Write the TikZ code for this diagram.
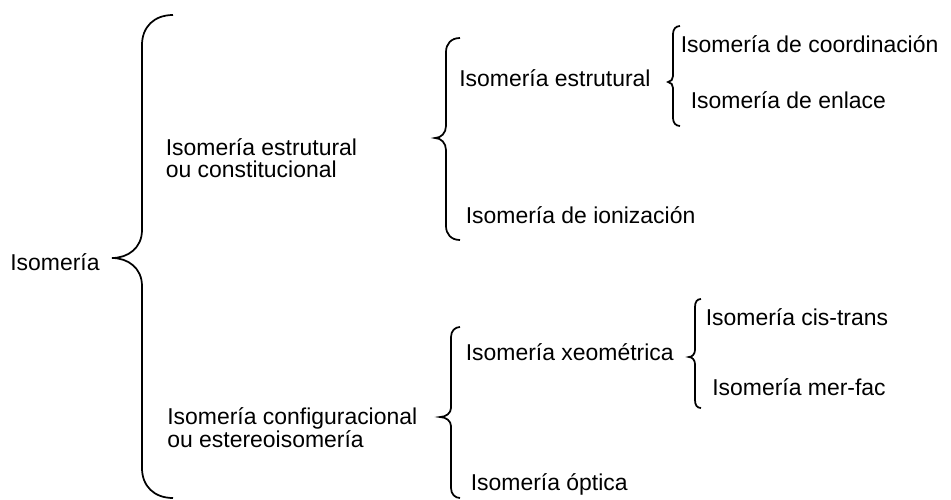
\documentclass[tikz,border=0pt]{standalone}
\usepackage{fontspec}
\setmainfont{Liberation Sans}

\tikzset{every picture/.style={line width=1.3pt}}
\tikzset{lbl/.style={anchor=base west, inner sep=0pt, align=left, font=\fontsize{17.2}{16}\selectfont}}

\begin{document}
\begin{tikzpicture}[x=0.75pt,y=0.75pt,yscale=-1,xscale=1]
        \useasboundingbox (0,0) rectangle (951,500);
        
        %Shape: Brace (main)
        \draw   (173,15) .. controls (154,15) and (142,27) .. (142,45) -- (142,230) .. controls (142,248) and (128,258) .. (112,258) .. controls (128,258) and (142,268) .. (142,286) -- (142,468) .. controls (142,486) and (154,498) .. (173,498) ;
        %Shape: Brace (estrutural)
        \draw   (460,38) .. controls (451,38) and (446,44) .. (446,52) -- (446,126) .. controls (446,133) and (441,138) .. (435,138) .. controls (441,138) and (446,143) .. (446,150) -- (446,226) .. controls (446,234) and (451,240) .. (460,240) ;
        %Shape: Brace (configuracional)
        \draw   (460,327) .. controls (455,327) and (451,331) .. (451,337) -- (451,408) .. controls (451,413) and (446,417) .. (440,417) .. controls (446,417) and (451,421) .. (451,426) -- (451,488) .. controls (451,494) and (455,498) .. (460,498) ;
        %Shape: Brace (coordinacion / enlace)
        \draw   (680,26) .. controls (676,26) and (673,29) .. (673,34) -- (673,76) .. controls (673,79) and (671,82) .. (668,82) .. controls (671,82) and (673,85) .. (673,88) -- (673,118) .. controls (673,123) and (676,126) .. (680,126) ;
        %Shape: Brace (cis-trans / mer-fac)
        \draw   (701,299) .. controls (697,299) and (695,302) .. (695,307) -- (695,350) .. controls (695,354) and (692,357) .. (689,357) .. controls (692,357) and (695,360) .. (695,364) -- (695,400) .. controls (695,405) and (697,408) .. (701,408) ;
        
        % Text Node
        \node [lbl] (isom) at (9.5,270) {Isomería};
        % Text Node (base = last line)
        \node [lbl] (const) at (165,177) {Isomería estrutural\\ou constitucional};
        % Text Node (base = last line)
        \node [lbl] (config) at (166.5,447.5) {Isomería configuracional\\ou estereoisomería};
        % Text Node
        \node [lbl] (estr) at (458.5,86) {Isomería estrutural};
        % Text Node
        \node [lbl] (ioniz) at (465,223.3) {Isomería de ionización};
        % Text Node
        \node [lbl] (coord) at (680,52.3) {Isomería de coordinación};
        % Text Node
        \node [lbl] (enlace) at (690,108.3) {Isomería de enlace};
        % Text Node
        \node [lbl] (xeom) at (465,360) {Isomería xeométrica};
        % Text Node
        \node [lbl] (optica) at (470,490) {Isomería óptica};
        % Text Node
        \node [lbl] (cistr) at (705,325) {Isomería cis-trans};
        % Text Node
        \node [lbl] (merfac) at (711.5,395) {Isomería mer-fac};
        
\end{tikzpicture}
\end{document}
